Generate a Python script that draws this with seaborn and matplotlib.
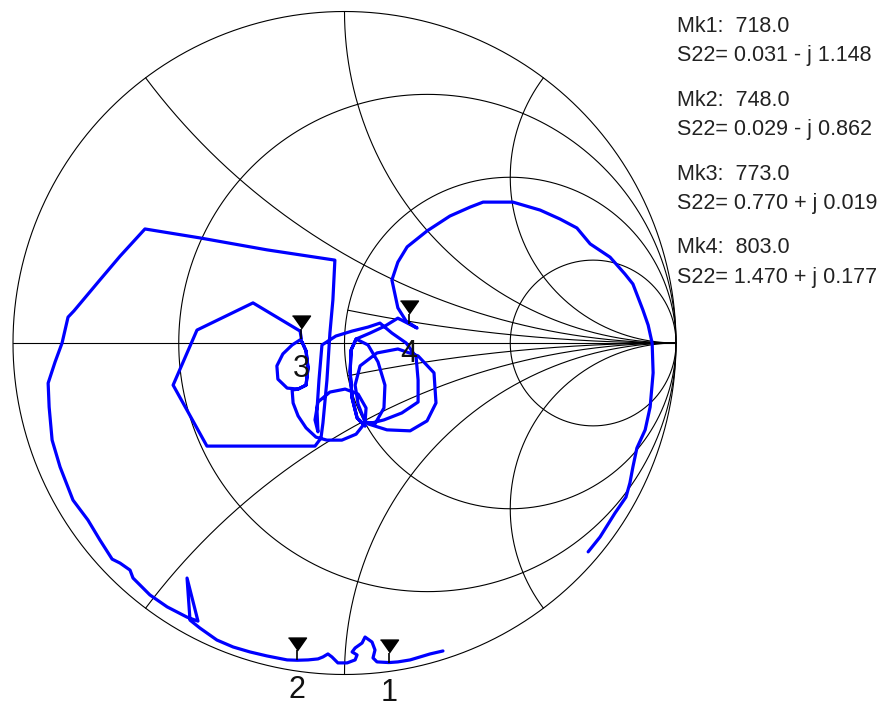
import numpy as np
import pandas as pd
import seaborn as sns
import matplotlib
matplotlib.use('Agg')
import matplotlib.pyplot as plt
from matplotlib.transforms import offset_copy

s22_re = [0.297, 0.258, 0.228, 0.198, 0.161, 0.134, 0.098, 0.086, 0.092, 0.083,
          0.062, 0.053, 0.032, 0.023, 0.038, 0.032, 0.008, -0.020, -0.038, -0.050,
          -0.065, -0.080, -0.110, -0.142, -0.173, -0.234, -0.285, -0.336, -0.385, -0.436,
          -0.466, -0.475, -0.442, -0.475, -0.535, -0.587, -0.638, -0.647, -0.677, -0.701,
          -0.738, -0.774, -0.819, -0.858, -0.882, -0.891, -0.894, -0.873, -0.852, -0.834,
          -0.816, -0.738, -0.677, -0.602, -0.436, -0.234, -0.029, -0.035, -0.044, -0.053,
          -0.065, -0.071, -0.089, -0.415, -0.517, -0.445, -0.276, -0.134, -0.130,
          # ring round marker 3
          -0.158, -0.186, -0.204, -0.201, -0.173, -0.140, -0.116, -0.110, -0.116, -0.128,
          -0.116, -0.110, -0.116, -0.140, -0.158,
          -0.155, -0.140, -0.116, -0.086,
          # lower loop
          -0.053, -0.008, 0.035, 0.062, 0.065, 0.041, 0.002, -0.044, -0.080, -0.089, -0.080,
          -0.083, -0.077, -0.068,
          -0.026, 0.023, 0.071, 0.107,
          # loops near marker 4
          0.143, 0.186, 0.216, 0.222, 0.222, 0.173, 0.119, 0.071,
          0.128, 0.198, 0.249, 0.276, 0.270, 0.222, 0.161, 0.098, 0.047, 0.032, 0.041, 0.062,
          0.092, 0.119, 0.122, 0.101, 0.071, 0.035, 0.020, 0.017, 0.023, 0.038, 0.062,
          0.038, 0.023, 0.017, 0.020, 0.035,
          0.077, 0.122, 0.161, 0.194, 0.219, 0.186, 0.161, 0.143,
          # big arc on the right
          0.161, 0.189, 0.249, 0.318, 0.379, 0.418, 0.508, 0.590, 0.650, 0.701,
          0.741, 0.801, 0.846, 0.870, 0.900, 0.916, 0.928, 0.931, 0.922, 0.907,
          0.882, 0.870, 0.861, 0.849, 0.816, 0.771, 0.735]
s22_im = [-0.929, -0.938, -0.947, -0.956, -0.962, -0.964, -0.962, -0.950, -0.926, -0.902,
          -0.887, -0.905, -0.920, -0.932, -0.941, -0.956, -0.965, -0.965, -0.947, -0.938,
          -0.947, -0.953, -0.956, -0.957, -0.956, -0.944, -0.932, -0.917, -0.896, -0.860,
          -0.836, -0.709, -0.839, -0.827, -0.796, -0.760, -0.709, -0.685, -0.664, -0.652,
          -0.594, -0.534, -0.474, -0.374, -0.293, -0.193, -0.121, -0.057, 0.000, 0.078,
          0.097, 0.190, 0.262, 0.344, 0.317, 0.281, 0.250, 0.130, 0.030, -0.112,
          -0.241, -0.287, -0.311, -0.311, -0.127, 0.039, 0.121, 0.036, 0.012,
          -0.006, -0.033, -0.069, -0.109, -0.136, -0.139, -0.127, -0.075, -0.024, 0.003,
          -0.024, -0.075, -0.127, -0.139, -0.142,
          -0.181, -0.220, -0.256, -0.284,
          -0.293, -0.293, -0.275, -0.241, -0.196, -0.154, -0.139, -0.148, -0.178, -0.232, -0.268,
          -0.202, -0.112, -0.006,
          0.021, 0.036, 0.048, 0.060,
          0.030, 0.000, -0.042, -0.112, -0.178, -0.211, -0.232, -0.244,
          -0.262, -0.265, -0.235, -0.181, -0.090, -0.039, -0.018, -0.030, -0.069, -0.127, -0.184, -0.238,
          -0.244, -0.196, -0.127, -0.057, -0.006, 0.012, -0.021, -0.087, -0.166, -0.226, -0.250,
          -0.226, -0.166, -0.087, -0.021, 0.012,
          0.030, 0.051, 0.075, 0.058, 0.045, 0.066, 0.106, 0.190,
          0.244, 0.290, 0.338, 0.383, 0.410, 0.425, 0.425, 0.401, 0.374, 0.347,
          0.299, 0.259, 0.208, 0.178, 0.100, 0.054, 0.000, -0.090, -0.193, -0.262,
          -0.317, -0.374, -0.422, -0.465, -0.513, -0.585, -0.630]

# marker readout: frequency and normalised impedance
mk_freq = [718.0, 748.0, 773.0, 803.0]
mk_r = [0.031, 0.029, 0.770, 1.470]
mk_x = [-1.148, -0.862, 0.019, 0.177]

# smith chart grid values
r_circles = [0.0, 1 / 3, 1.0, 3.0]
x_arcs = [0.5, 1.0, 2.0, -0.5, -1.0, -2.0]
x_short = [0.2, -0.2]

sns.set_style('white')
plt.rcParams['font.family'] = ['Liberation Sans', 'DejaVu Sans']

W, H, R_PX, CX, CY = 880, 706, 331.5, 344.5, 343.0
fig = plt.figure(figsize=(W / 100, H / 100), dpi=100)
ax = fig.add_axes([0, 0, 1, 1])
ax.set_xlim(-CX / R_PX, (W - CX) / R_PX)
ax.set_ylim((CY - H) / R_PX, CY / R_PX)
ax.axis('off')


def gamma(z):
    return (z - 1) / (z + 1)


grid = dict(color='black', lw=0.8, zorder=1)
t = np.linspace(0, 2 * np.pi, 721)
for r in r_circles:
    c, rad = r / (1 + r), 1 / (1 + r)
    ax.plot(c + rad * np.cos(t), rad * np.sin(t), **grid)
rr = np.concatenate([[0.0], np.logspace(-3, 4, 800)])
for x in x_arcs:
    g = gamma(rr + 1j * x)
    ax.plot(g.real, g.imag, **grid)
rr3 = np.logspace(0, 4, 400)
for x in x_short:
    g = gamma(rr3 + 1j * x)
    ax.plot(g.real, g.imag, **grid)
ax.plot([-1, 1], [0, 0], **grid)

df = pd.DataFrame({'re': s22_re, 'im': s22_im})
sns.lineplot(data=df, x='re', y='im', sort=False, estimator=None,
             color='#0000ff', lw=2.3, ax=ax, zorder=3)

# markers
mk = gamma(np.array(mk_r) + 1j * np.array(mk_x))
tri = [(-0.7, 0.5), (0.7, 0.5), (0.0, -0.5)]
tr_tri = offset_copy(ax.transData, fig=fig, x=0, y=16.5, units='dots')
tr_stem = offset_copy(ax.transData, fig=fig, x=0, y=5, units='dots')
tr_lab = offset_copy(ax.transData, fig=fig, x=0, y=-38, units='dots')
ax.plot(mk.real, mk.imag, ls='none', marker=tri, ms=13, color='black',
        transform=tr_tri, zorder=4)
ax.plot(mk.real, mk.imag, ls='none', marker='|', ms=7.2, mew=1.2, color='black',
        transform=tr_stem, zorder=4)
for i, g in enumerate(mk):
    ax.text(g.real, g.imag, str(i + 1), transform=tr_lab, ha='center',
            va='baseline', fontsize=22, color='#111111', zorder=5)

# readout on the right
for i in range(4):
    sign = '+' if mk_x[i] >= 0 else '-'
    y0 = 32 + 73.8 * i
    fig.text(677 / W, 1 - y0 / H, f'Mk{i + 1}:  {mk_freq[i]:.1f}',
             fontsize=15.5, color='#222222', va='baseline')
    fig.text(677 / W, 1 - (y0 + 29.5) / H,
             f'S22= {mk_r[i]:.3f} {sign} j {abs(mk_x[i]):.3f}',
             fontsize=15.5, color='#222222', va='baseline')

fig.savefig('out.png', dpi=100, facecolor='white')
